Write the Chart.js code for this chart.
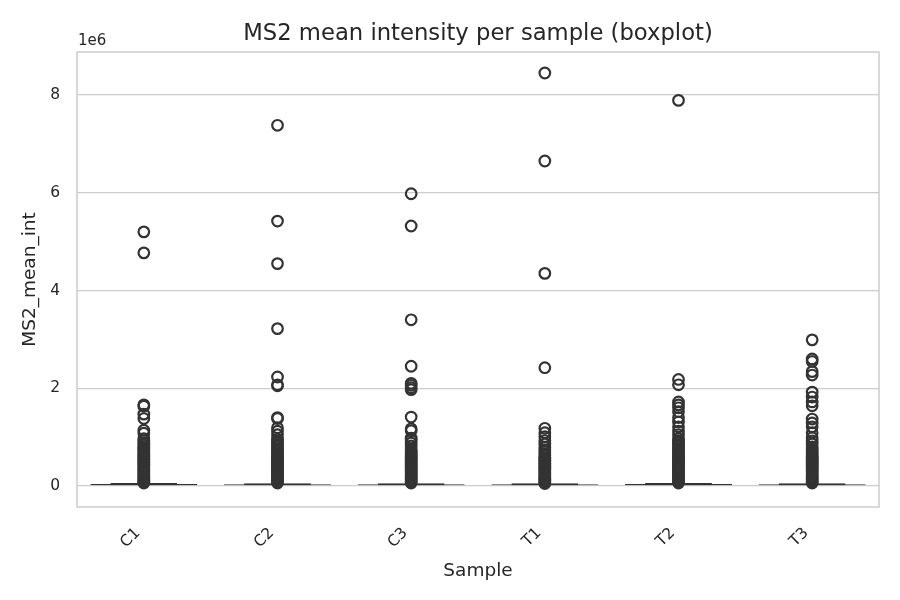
<!DOCTYPE html>
<html>
<head>
<meta charset="utf-8">
<script src="https://cdn.jsdelivr.net/npm/chart.js@4"></script>
<style>
  html, body { margin: 0; padding: 0; background: #fff; }
  #wrap { width: 900px; height: 600px; }
</style>
</head>
<body>
<div id="wrap"><canvas id="chart" width="900" height="600"></canvas></div>
<script>
// samples on the x axis
const samples = ['C1', 'C2', 'C3', 'T1', 'T2', 'T3'];

// box stats (values are tiny next to the outliers, so boxes look flat)
const q1 = [0, 0, 0, 0, 0, 0];
const q3 = [40000, 38000, 36000, 37000, 40000, 36000];
const whiskerLow = [0, 0, 0, 0, 0, 0];
const whiskerHigh = [60000, 58000, 55000, 56000, 60000, 55000];

// outliers, per sample
const outC1 = [5.20e6, 4.77e6, 1.66e6, 1.63e6, 1.47e6, 1.38e6, 1.14e6, 1.08e6, 0.97e6, 0.93e6,
  0.88e6, 0.84e6, 0.80e6, 0.77e6, 0.74e6, 0.71e6, 0.68e6, 0.65e6, 0.62e6, 0.59e6, 0.56e6, 0.53e6,
  0.50e6, 0.47e6, 0.44e6, 0.41e6, 0.38e6, 0.35e6, 0.32e6, 0.29e6, 0.26e6, 0.23e6, 0.20e6, 0.17e6,
  0.14e6, 0.11e6, 0.08e6, 0.06e6];
const outC2 = [7.38e6, 5.42e6, 4.55e6, 3.22e6, 2.23e6, 2.07e6, 2.05e6, 1.40e6, 1.38e6, 1.19e6,
  1.12e6, 1.05e6, 0.96e6, 0.92e6, 0.88e6, 0.84e6, 0.80e6, 0.76e6, 0.73e6, 0.70e6, 0.66e6, 0.63e6,
  0.60e6, 0.57e6, 0.54e6, 0.51e6, 0.48e6, 0.45e6, 0.42e6, 0.39e6, 0.36e6, 0.33e6, 0.30e6, 0.27e6,
  0.24e6, 0.21e6, 0.18e6, 0.15e6, 0.12e6, 0.09e6, 0.06e6];
const outC3 = [5.98e6, 5.32e6, 3.40e6, 2.45e6, 2.10e6, 2.06e6, 2.01e6, 1.97e6, 1.41e6, 1.17e6,
  1.13e6, 0.98e6, 0.94e6, 0.88e6, 0.82e6, 0.76e6, 0.72e6, 0.69e6, 0.66e6, 0.63e6, 0.60e6, 0.57e6,
  0.54e6, 0.51e6, 0.48e6, 0.45e6, 0.42e6, 0.39e6, 0.36e6, 0.33e6, 0.30e6, 0.27e6, 0.24e6, 0.21e6,
  0.18e6, 0.15e6, 0.12e6, 0.09e6, 0.06e6];
const outT1 = [8.45e6, 6.65e6, 4.35e6, 2.42e6, 1.18e6, 1.09e6, 1.01e6, 0.93e6, 0.86e6, 0.79e6,
  0.74e6, 0.70e6, 0.66e6, 0.62e6, 0.58e6, 0.55e6, 0.52e6, 0.49e6, 0.46e6, 0.43e6, 0.40e6, 0.37e6,
  0.34e6, 0.31e6, 0.28e6, 0.25e6, 0.22e6, 0.19e6, 0.16e6, 0.13e6, 0.10e6, 0.07e6, 0.05e6];
const outT2 = [7.89e6, 2.18e6, 2.07e6, 1.72e6, 1.66e6, 1.60e6, 1.52e6, 1.40e6, 1.31e6, 1.21e6,
  1.12e6, 1.05e6, 0.97e6, 0.92e6, 0.88e6, 0.84e6, 0.80e6, 0.76e6, 0.73e6, 0.70e6, 0.66e6, 0.63e6,
  0.60e6, 0.57e6, 0.54e6, 0.51e6, 0.48e6, 0.45e6, 0.42e6, 0.39e6, 0.36e6, 0.33e6, 0.30e6, 0.27e6,
  0.24e6, 0.21e6, 0.18e6, 0.15e6, 0.12e6, 0.09e6, 0.06e6];
const outT3 = [2.99e6, 2.60e6, 2.55e6, 2.34e6, 2.27e6, 1.92e6, 1.82e6, 1.72e6, 1.64e6, 1.37e6,
  1.29e6, 1.21e6, 1.09e6, 0.99e6, 0.92e6, 0.86e6, 0.80e6, 0.75e6, 0.71e6, 0.67e6, 0.63e6, 0.60e6,
  0.57e6, 0.54e6, 0.51e6, 0.48e6, 0.45e6, 0.42e6, 0.39e6, 0.36e6, 0.33e6, 0.30e6, 0.27e6, 0.24e6,
  0.21e6, 0.18e6, 0.15e6, 0.12e6, 0.09e6, 0.06e6];
const outliers = [outC1, outC2, outC3, outT1, outT2, outT3];

// y axis ticks (shown divided by 1e6)
const yTicks = [0, 2e6, 4e6, 6e6, 8e6];

const chartTitle = 'MS2 mean intensity per sample (boxplot)';
const ink = '#333333';
const txt = '#262626';
const grid = '#cccccc';
const FONT = 'DejaVu Sans';

// points for the scatter dataset: x is the sample name on the category axis
const flierPoints = [];
outliers.forEach((arr, i) => {
  arr.forEach(v => flierPoints.push({ x: samples[i], y: v }));
});

// title centred on the plot area, "1e6" offset text, full frame around the plot
const extras = {
  id: 'extras',
  afterDraw(chart) {
    const { ctx, chartArea: a } = chart;
    ctx.save();
    ctx.strokeStyle = grid;
    ctx.lineWidth = 1.5;
    ctx.strokeRect(a.left, a.top, a.right - a.left, a.bottom - a.top);
    ctx.fillStyle = txt;
    ctx.font = '15px "' + FONT + '"';
    ctx.textAlign = 'left';
    ctx.textBaseline = 'bottom';
    ctx.fillText('1e6', a.left + 1, a.top - 3);
    ctx.font = '22.7px "' + FONT + '"';
    ctx.textAlign = 'center';
    ctx.textBaseline = 'middle';
    ctx.fillText(chartTitle, (a.left + a.right) / 2, 34);
    ctx.restore();
  }
};

new Chart(document.getElementById('chart').getContext('2d'), {
  type: 'bar',
  data: {
    labels: samples,
    datasets: [
      {
        label: 'whiskers',
        data: samples.map((s, i) => [whiskerLow[i], whiskerHigh[i]]),
        backgroundColor: ink,
        borderColor: ink,
        borderWidth: 1,
        borderSkipped: false,
        grouped: false,
        barPercentage: 0.5,
        categoryPercentage: 1,
        order: 2
      },
      {
        label: 'box',
        data: samples.map((s, i) => [q1[i], q3[i]]),
        backgroundColor: ink,
        borderColor: ink,
        borderWidth: 1.5,
        borderSkipped: false,
        grouped: false,
        barPercentage: 0.8,
        categoryPercentage: 1,
        order: 3
      },
      {
        type: 'scatter',
        label: 'outliers',
        data: flierPoints,
        pointRadius: 5.3,
        pointBorderWidth: 2.2,
        pointBorderColor: ink,
        pointBackgroundColor: 'rgba(255,255,255,0)',
        showLine: false,
        order: 1
      }
    ]
  },
  options: {
    responsive: false,
    animation: false,
    layout: { padding: { top: 52, right: 21, bottom: 18, left: 19 } },
    plugins: {
      legend: { display: false },
      tooltip: { enabled: false },
      title: { display: false }
    },
    scales: {
      x: {
        type: 'category',
        offset: true,
        afterFit(axis) { axis.height = 75; },
        grid: { display: false, drawTicks: false },
        border: { display: false },
        ticks: {
          color: txt,
          font: { family: FONT, size: 15.5 },
          minRotation: 45,
          maxRotation: 45,
          padding: 17,
          labelOffset: -6
        },
        title: {
          display: true,
          text: 'Sample',
          color: txt,
          font: { family: FONT, size: 18.5 },
          padding: { top: 4, bottom: 0 }
        }
      },
      y: {
        min: -0.43e6,
        max: 8.88e6,
        afterFit(axis) { axis.width = 58; },
        afterBuildTicks(axis) {
          axis.ticks = yTicks.map(v => ({ value: v }));
        },
        grid: { color: grid, lineWidth: 1.3, drawTicks: false },
        border: { display: false },
        ticks: {
          color: txt,
          font: { family: FONT, size: 15.5 },
          padding: 17,
          callback: v => String(v / 1e6)
        },
        title: {
          display: true,
          text: 'MS2_mean_int',
          color: txt,
          font: { family: FONT, size: 18.5 },
          padding: { top: 0, bottom: 0 }
        }
      }
    }
  },
  plugins: [extras]
});
</script>
</body>
</html>
